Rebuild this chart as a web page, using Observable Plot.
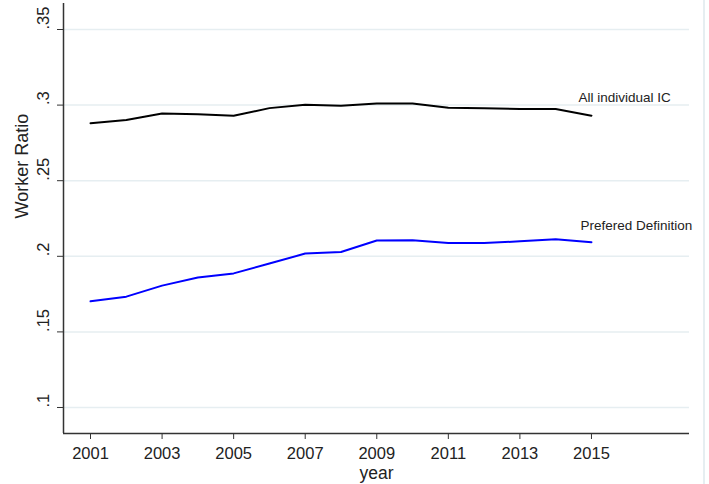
<!DOCTYPE html>
<html>
<head>
<meta charset="utf-8">
<script src="https://cdn.jsdelivr.net/npm/d3@7"></script>
<script src="https://cdn.jsdelivr.net/npm/@observablehq/plot@0.6"></script>
<style>
  body { margin: 0; background: #fff; }
  #chart { width: 703px; border-right: 2px solid #e6eef1; }
</style>
</head>
<body>
<div id="chart"></div>
<script>
// values
const years = [2001, 2002, 2003, 2004, 2005, 2006, 2007, 2008, 2009, 2010, 2011, 2012, 2013, 2014, 2015];
const allIC = [0.288, 0.2901, 0.2944, 0.294, 0.2929, 0.298, 0.3002, 0.2995, 0.301, 0.301, 0.2982, 0.298, 0.2974, 0.2974, 0.293];
const preferred = [0.1702, 0.1733, 0.1806, 0.186, 0.1887, 0.1952, 0.2018, 0.2028, 0.2104, 0.2106, 0.2088, 0.2088, 0.2099, 0.2113, 0.2093];

const xTicks = [2001, 2003, 2005, 2007, 2009, 2011, 2013, 2015];
const yTicks = [0.1, 0.15, 0.2, 0.25, 0.3, 0.35];
const yTickLabels = [".1", ".15", ".2", ".25", ".3", ".35"];
const xDomain = [2000.245, 2017.74];
const yDomain = [0.0828, 0.3672];

const seriesNames = ["All individual IC", "Prefered Definition"];
const seriesColors = ["#000000", "#0000ff"];

// long table for the line marks
const rows = [];
years.forEach((yr, i) => {
  rows.push({year: yr, value: allIC[i], series: seriesNames[0]});
  rows.push({year: yr, value: preferred[i], series: seriesNames[1]});
});
const last = years.length - 1;

const axisColor = "#333";
const textColor = "#222";

const chart = Plot.plot({
  width: 703,
  height: 484,
  marginLeft: 63,
  marginRight: 14,
  marginTop: 3,
  marginBottom: 51,
  style: {fontFamily: "'Liberation Sans', Arial, sans-serif", background: "#fff"},
  x: {domain: xDomain, axis: null},
  y: {domain: yDomain, axis: null},
  color: {domain: seriesNames, range: seriesColors},
  marks: [
    // light horizontal grid
    Plot.gridY(yTicks, {stroke: "#e6eef1", strokeOpacity: 1, strokeWidth: 1.5}),

    // axis lines
    Plot.ruleX([xDomain[0]], {y1: yDomain[0], y2: yDomain[1], stroke: axisColor, strokeWidth: 1.5}),
    Plot.ruleY([yDomain[0]], {x1: xDomain[0], x2: xDomain[1], stroke: axisColor, strokeWidth: 1.5}),

    // x axis
    Plot.axisX(xTicks, {
      tickSize: 6, tickPadding: 8, fontSize: 16.5,
      tickFormat: d => String(d), label: null,
      stroke: axisColor, fill: textColor
    }),
    Plot.text(["year"], {frameAnchor: "bottom", lineAnchor: "middle", dy: 40, fontSize: 17.5, fill: textColor}),

    // y axis: ticks only, labels rotated like Stata
    Plot.axisY(yTicks, {tickSize: 6, tickFormat: () => "", label: null, stroke: axisColor}),
    Plot.text(yTicks, {
      y: d => d, text: (d, i) => yTickLabels[i],
      frameAnchor: "left", dx: -20, rotate: -90, fontSize: 16.5, fill: textColor
    }),
    Plot.text(["Worker Ratio"], {frameAnchor: "left", dx: -41.3, rotate: -90, fontSize: 18, fill: textColor}),

    // the two series
    Plot.line(rows, {x: "year", y: "value", z: "series", stroke: "series", strokeWidth: 2}),

    // labels near the last point of each line
    Plot.text([seriesNames[0]], {
      x: years[last], y: allIC[last], text: d => d,
      textAnchor: "start", dx: -13, dy: -18.5, fontSize: 13.5, fill: textColor
    }),
    Plot.text([seriesNames[1]], {
      x: years[last], y: preferred[last], text: d => d,
      textAnchor: "start", dx: -11, dy: -16.5, fontSize: 13.5, fill: textColor
    })
  ]
});

document.getElementById("chart").append(chart);
</script>
</body>
</html>
